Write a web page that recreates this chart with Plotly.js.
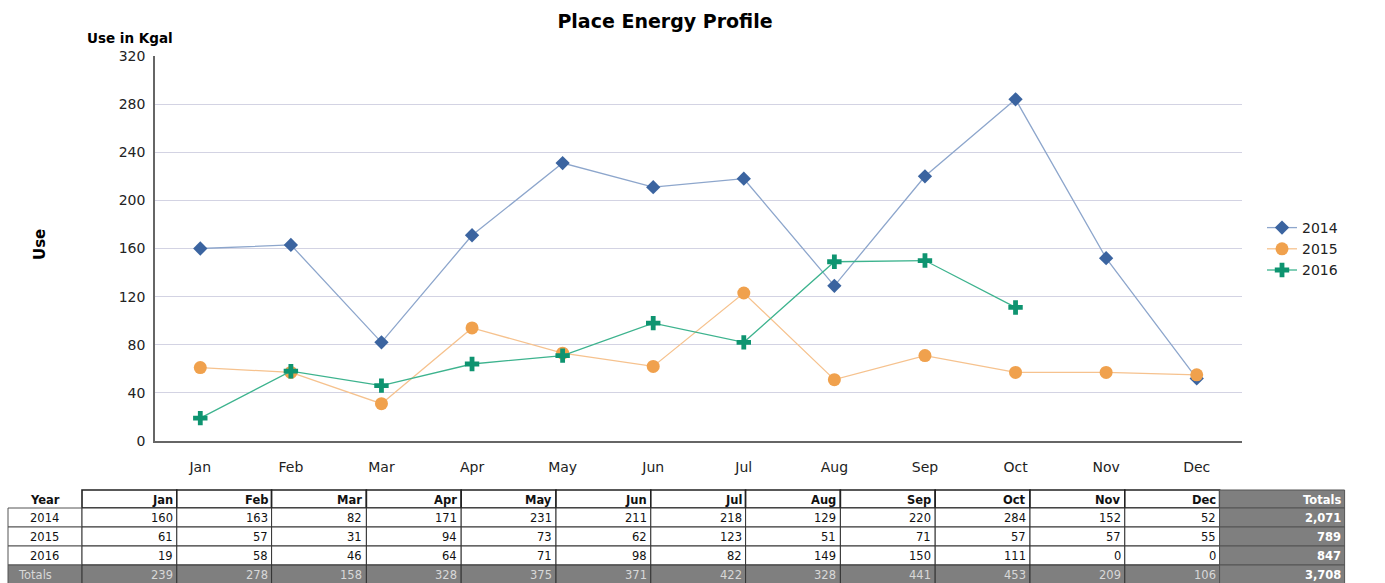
<!DOCTYPE html>
<html>
<head>
<meta charset="utf-8">
<script src="https://cdn.plot.ly/plotly-3.0.1.min.js"></script>
<style>
html,body{margin:0;padding:0;background:#fff;}
#chart{width:1385px;height:583px;}
</style>
</head>
<body>
<div id="chart"></div>
<script>
const months = ['Jan','Feb','Mar','Apr','May','Jun','Jul','Aug','Sep','Oct','Nov','Dec'];
const years = ['2014','2015','2016'];
const use2014 = [160,163,82,171,231,211,218,129,220,284,152,52];
const use2015 = [61,57,31,94,73,62,123,51,71,57,57,55];
const use2016 = [19,58,46,64,71,98,82,149,150,111,null,null];
const table2016 = [19,58,46,64,71,98,82,149,150,111,0,0];
const monthTotals = [239,278,158,328,375,371,422,328,441,453,209,106];
const yearTotals = ['2,071','789','847'];
const grandTotal = '3,708';
const yTicks = [0,40,80,120,160,200,240,280,320];

const FONT = 'DejaVu Sans, Verdana, sans-serif';
const W = 1385, H = 583;
const px = x => x / W;
const py = y => 1 - y / H;

const series = [use2014, use2015, use2016];
const styles = [
  {line:'#8da6cc', marker:'#3b64a0', symbol:'diamond', size:11},
  {line:'#f6c28e', marker:'#f0a14d', symbol:'circle', size:13},
  {line:'#3db38e', marker:'#0e9470', symbol:'cross', size:12}
];

const traces = series.map((vals, i) => ({
  type:'scatter', mode:'lines+markers', name:years[i],
  x:months, y:vals, connectgaps:false,
  line:{color:styles[i].line, width:1.3},
  marker:{color:styles[i].marker, symbol:styles[i].symbol, size:styles[i].size, line:{width:0}},
  hoverinfo:'x+y+name'
}));

// ---- data table built from the arrays (shapes + text) ----
const tableRows = [use2014, use2015, table2016];
const headers = ['Year'].concat(months).concat(['Totals']);
const colWidths = [74].concat(months.map(()=>94.8)).concat([125]);
const colEdges = [8];
colWidths.forEach(w => colEdges.push(colEdges[colEdges.length-1] + w));
const rowEdges = [490, 508, 527, 546, 565, 584];

const grey = '#7f7f7f';
const shapes = [];
const annotations = [];

function cell(ci, ri, text, opts) {
  const x0 = colEdges[ci], x1 = colEdges[ci+1];
  const y0 = rowEdges[ri], y1 = rowEdges[ri+1];
  if (opts.fill || opts.border) {
    shapes.push({type:'rect', xref:'paper', yref:'paper', x0:px(x0), x1:px(x1), y0:py(y1), y1:py(y0),
      fillcolor: opts.fill || 'rgba(0,0,0,0)',
      line:{color: opts.border || 'rgba(0,0,0,0)', width: opts.border ? (opts.bw || 1) : 0}, layer:'below'});
  }
  let ax, xa;
  if (opts.align === 'center') { ax = (x0+x1)/2; xa = 'center'; }
  else if (opts.align === 'left') { ax = x0 + 8; xa = 'left'; }
  else { ax = x1 - 2; xa = 'right'; }
  annotations.push({text: opts.bold ? '<b>'+text+'</b>' : text, xref:'paper', yref:'paper',
    x:px(ax), y:py((y0+y1)/2 + 0.5), xanchor:xa, yanchor:'middle', showarrow:false,
    font:{family:FONT, size:11.5, color:opts.color || '#111'}});
}

const lastCol = headers.length - 1;
headers.forEach((h, ci) => {
  if (ci === 0) cell(ci, 0, h, {align:'center', bold:true});
  else if (ci === lastCol) cell(ci, 0, h, {align:'right', bold:true, fill:grey, border:'#555', color:'#ffffff'});
  else cell(ci, 0, h, {align:'right', bold:true, fill:'#ffffff', border:'#222', bw:1.6});
});
tableRows.forEach((vals, r) => {
  const ri = r + 1;
  cell(0, ri, years[r], {align:'center', fill:'#ffffff', border:'#555'});
  vals.forEach((v, j) => cell(j+1, ri, String(v), {align:'right', fill:'#ffffff', border:'#333'}));
  cell(lastCol, ri, yearTotals[r], {align:'right', bold:true, fill:grey, border:'#555', color:'#ffffff'});
});
cell(0, 4, 'Totals', {align:'left', fill:grey, border:'#555', color:'#d8d8d8'});
monthTotals.forEach((v, j) => cell(j+1, 4, String(v), {align:'right', fill:grey, border:'#333', color:'#d8d8d8'}));
cell(lastCol, 4, grandTotal, {align:'right', bold:true, fill:grey, border:'#555', color:'#ffffff'});

annotations.push(
  {text:'<b>Use in Kgal</b>', xref:'paper', yref:'paper', x:px(130), y:py(38), xanchor:'center', yanchor:'middle', showarrow:false, font:{family:FONT, size:13.5, color:'#000'}},
  {text:'<b>Use</b>', xref:'paper', yref:'paper', x:px(40), y:py(245), xanchor:'center', yanchor:'middle', textangle:-90, showarrow:false, font:{family:FONT, size:15, color:'#000'}}
);

const layout = {
  width:W, height:H,
  margin:{l:0, r:0, t:0, b:0},
  paper_bgcolor:'#ffffff', plot_bgcolor:'#ffffff',
  font:{family:FONT, size:14, color:'#222'},
  title:{text:'<b>Place Energy Profile</b>', x:px(665), xanchor:'center', y:py(21), yanchor:'middle', font:{family:FONT, size:19, color:'#000'}},
  xaxis:{
    domain:[px(155), px(1242)], type:'category', range:[-0.5, 11.5],
    showline:true, linecolor:'#666', linewidth:1.5, showgrid:false, ticks:'', zeroline:false,
    ticklabelstandoff:12,
    tickfont:{family:FONT, size:14, color:'#222'}, fixedrange:true
  },
  yaxis:{
    domain:[1-441/H, 1-56/H], range:[0,320], tickvals:yTicks,
    showline:true, linecolor:'#666', linewidth:1.5, showgrid:true, gridcolor:'#d3d3e3', gridwidth:1.3,
    zeroline:false, ticks:'', ticklabelstandoff:5,
    tickfont:{family:FONT, size:14, color:'#222'}, fixedrange:true
  },
  showlegend:true,
  legend:{x:px(1262), xanchor:'left', y:py(212), yanchor:'top', font:{family:FONT, size:14, color:'#222'},
    tracegroupgap:0, itemwidth:30, bgcolor:'rgba(0,0,0,0)'},
  shapes: shapes,
  annotations: annotations
};

Plotly.newPlot('chart', traces, layout, {displayModeBar:false});
</script>
</body>
</html>
